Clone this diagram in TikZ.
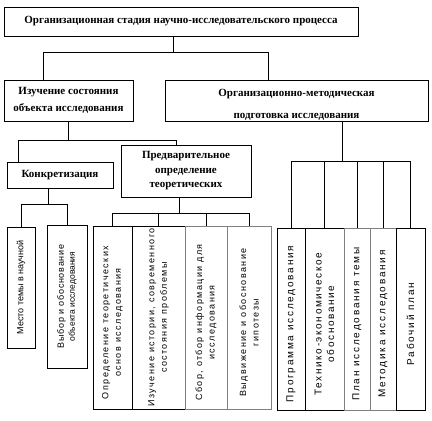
\documentclass[tikz,border=0pt]{standalone}
\usepackage{fontspec}
\setmainfont{Liberation Serif}
\newfontfamily\vsans[LetterSpace=16]{Liberation Sans}
\newfontfamily\vsanswide[LetterSpace=18]{Liberation Sans}
\newfontfamily\vsansnarrow[LetterSpace=8]{Liberation Sans}
\newfontfamily\vsansplain{Liberation Sans}
\usetikzlibrary{positioning}

\tikzset{
  box/.style={draw, line width=0.6pt, inner sep=0pt, align=center, font=\bfseries\fontsize{11}{14.5}\selectfont},
  vbox/.style={draw, line width=0.6pt, inner sep=0pt, outer sep=0pt},
  graybox/.style={draw=black!50},
  vtext/.style={rotate=90, align=center, inner sep=0pt, font=\vsans\fontsize{9}{12.5}\selectfont},
  vlow/.style={yshift=-5pt, vtext},
  vright/.style={vlow, font=\vsanswide\fontsize{10}{12.5}\selectfont},
  link/.style={line width=0.8pt},
}

\begin{document}
\begin{tikzpicture}[x=1pt, y=-1pt]
\useasboundingbox (0,0) rectangle (432,421);
%----------------------------------
\node[box, minimum width=354, minimum height=29] (top) at (181,21.5)
  {Организационная стадия научно-исследовательского процесса};
%----------------------------------
\node[box, minimum width=129, minimum height=41] (izuch) at (68.5,100.5)
  {Изучение состояния\\[2pt] объекта исследования};
\node[box, minimum width=263, minimum height=41] (org) at (296.5,100.5)
  {\rule{0pt}{16pt}Организационно-методическая\\[7pt] подготовка исследования};
%----------------------------------
\node[box, minimum width=106, minimum height=26] (konk) at (60,175) {Конкретизация};
\node[box, minimum width=130, minimum height=52] (pred) at (186,171)
  {Предварительное\\ определение\\ теоретических};
%---------------------------------- left group
\node[vbox, minimum width=28, minimum height=121,
  label={[vtext, font=\vsansplain\fontsize{9}{10}\selectfont]center:Место темы в научной}] (mesto) at (21,287.5) {};
\node[vbox, minimum width=40, minimum height=143,
  label={[vtext, font=\fontsize{8.5}{11}\selectfont]center:{{\vsansnarrow\fontsize{9}{11}\selectfont Выбор и обоснование}\\ {\vsansplain объекта исследования}}}] (vybor) at (67,296.5) {};
%---------------------------------- middle group
\node[vbox, line width=1pt, minimum width=39, minimum height=183,
  label={[vlow]center:{Определение теоретических\\ основ исследования}}] (opr) at (112.5,317.5) {};
\node[vbox, line width=1pt, minimum width=53, minimum height=183, right=0pt of opr,
  label={[vtext]center:{Изучение истории, современного\\ состояния проблемы}}] (izuch2) {};
\node[vbox, graybox, minimum width=42, minimum height=183, right=0pt of izuch2,
  label={[vlow]center:{Сбор, отбор информации для\\ исследования}}] (sbor) {};
\node[vbox, graybox, minimum width=44, minimum height=183, right=0pt of sbor,
  label={[vlow]center:{Выдвижение и обоснование\\ гипотезы}}] (vydv) {};
%---------------------------------- right group
\node[vbox, minimum width=28, minimum height=182,
  label={[vright]center:Программа исследования}] (prog) at (291,319) {};
\node[vbox, minimum width=39, minimum height=182, right=0pt of prog,
  label={[vright, font=\vsans\fontsize{10}{12.5}\selectfont]center:{Технико-экономическое\\ обоснование}}] (tech) {};
\node[vbox, graybox, minimum width=26, minimum height=182, right=0pt of tech,
  label={[vright]center:План исследования темы}] (plan) {};
\node[vbox, graybox, minimum width=26, minimum height=182, right=0pt of plan,
  label={[vright]center:Методика исследования}] (metod) {};
\node[vbox, minimum width=29, minimum height=182, right=0pt of metod,
  label={[vright]center:Рабочий план}] (rab) {};
%---------------------------------- connectors
\draw[link] ([xshift=-8pt]top.south) -- ++(0,16) coordinate (j1);
\draw[link] ([xshift=-25.5pt]izuch.north) |- (j1) -| ([xshift=-28.5pt]org.north);
\draw[link] (izuch.south) -- ++(0,19) coordinate (j2);
\draw[link] ([xshift=-42pt]konk.north) |- (j2) -| ([xshift=-10pt]pred.north);
\draw[link] ([xshift=45.5pt]org.south) -- ++(0,40) coordinate (j3);
\draw[link] (prog.north) |- (j3) -| (rab.north);
\foreach \n in {tech, plan, metod} \draw[link] (\n.north) -- (\n.north |- j3);
\draw[link] ([xshift=-12pt]konk.south) -- ++(0,16) coordinate (j4);
\draw[link] (mesto.north) |- (j4) -| (vybor.north);
\draw[link] ([xshift=-7pt]pred.south) -- ++(0,16) coordinate (j5);
\draw[link] (opr.north) |- (j5) -| (vydv.north);
\foreach \n in {izuch2, sbor} \draw[link] (\n.north) -- (\n.north |- j5);
\end{tikzpicture}
\end{document}
